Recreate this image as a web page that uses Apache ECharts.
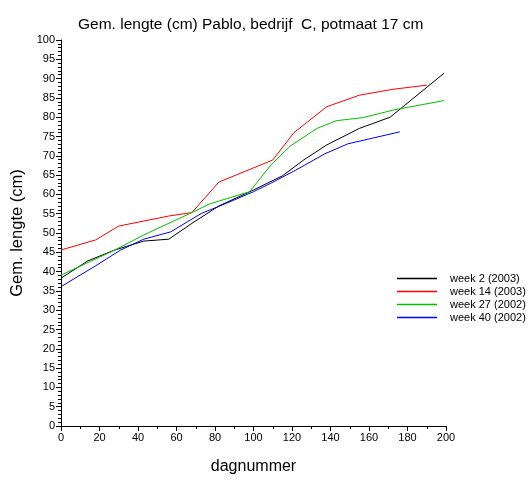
<!DOCTYPE html>
<html><head><meta charset="utf-8">
<script src="https://cdn.jsdelivr.net/npm/echarts@6/dist/echarts.min.js"></script>
<style>html,body{margin:0;padding:0;background:#fff}#c{width:532px;height:480px}</style>
</head><body><div id="c"></div>
<script>
const seriesNames = ["week 2 (2003)", "week 14 (2003)", "week 27 (2002)", "week 40 (2002)"];
const colors = ["#000000", "#ff0000", "#00c000", "#0000ff"];
const week2 = [[0,38.3],[14,42.8],[28,45.6],[43,47.9],[56,48.4],[68,52.5],[82,57],[99,60.9],[115,64.8],[126,68.9],[138,72.8],[155,77.1],[171,80],[199,91.4]];
const week14 = [[0,45.6],[18,48.2],[30,51.8],[56,54.4],[68,55.3],[82,63.2],[110,68.9],[121,76],[138,82.7],[155,85.7],[172,87.2],[190,88.3]];
const week27 = [[0,39.1],[28,45.6],[43,49.5],[68,55.3],[77,57.5],[98,60.7],[109,67.6],[119,72.5],[133,77.1],[143,79.1],[157,79.9],[173,81.9],[199,84.3]];
const week40 = [[0,36.1],[18,41.5],[31,45.6],[43,48.4],[57,50.3],[73,55.1],[84,57.3],[100,60.7],[109,62.9],[122,66.3],[137,70.5],[149,73.1],[176,76.2]];
const allData = [week2, week14, week27, week40];
const font = "Liberation Sans, Arial, sans-serif";
const chart = echarts.init(document.getElementById('c'), null, {renderer: 'canvas'});
chart.setOption({
  animation: false,
  backgroundColor: '#fff',
  title: {text: 'Gem. lengte (cm) Pablo, bedrijf  C, potmaat 17 cm', left: 73, top: 12,
    textStyle: {fontFamily: font, fontSize: 15.5, fontWeight: 'normal', color: '#000'}},
  grid: {left: 61, right: 86, top: 40, bottom: 54},
  legend: {orient: 'vertical', left: 397, top: 272, itemWidth: 40, itemHeight: 1.5, itemGap: 0,
    icon: 'rect', padding: 0,
    data: seriesNames, textStyle: {fontFamily: font, fontSize: 11, color: '#000', padding: [0,0,0,8], lineHeight: 13}},
  xAxis: {type: 'value', min: 0, max: 200, interval: 20,
    name: 'dagnummer', nameLocation: 'middle', nameGap: 33,
    nameTextStyle: {fontFamily: font, fontSize: 16, color: '#000'},
    axisLine: {show: true, lineStyle: {color: '#000', width: 1}},
    axisTick: {show: true, length: 5, lineStyle: {color: '#000'}},
    minorTick: {show: true, splitNumber: 2, length: 3, lineStyle: {color: '#000'}},
    splitLine: {show: false},
    axisLabel: {fontFamily: font, fontSize: 11, color: '#000', margin: 6}},
  yAxis: {type: 'value', min: 0, max: 100, interval: 5,
    name: 'Gem. lengte (cm)', nameLocation: 'middle', nameGap: 34, nameRotate: 90,
    nameTextStyle: {fontFamily: font, fontSize: 16.5, color: '#000'},
    axisLine: {show: true, lineStyle: {color: '#000', width: 1}},
    axisTick: {show: true, length: 5, lineStyle: {color: '#000'}},
    minorTick: {show: true, splitNumber: 5, length: 3, lineStyle: {color: '#000'}},
    splitLine: {show: false},
    axisLabel: {fontFamily: font, fontSize: 11, color: '#000', margin: 6}},
  series: allData.map((d, i) => ({
    name: seriesNames[i], type: 'line', data: d, showSymbol: false, symbol: 'none',
    lineStyle: {color: colors[i], width: 1}, itemStyle: {color: colors[i]}
  }))
});
</script></body></html>
